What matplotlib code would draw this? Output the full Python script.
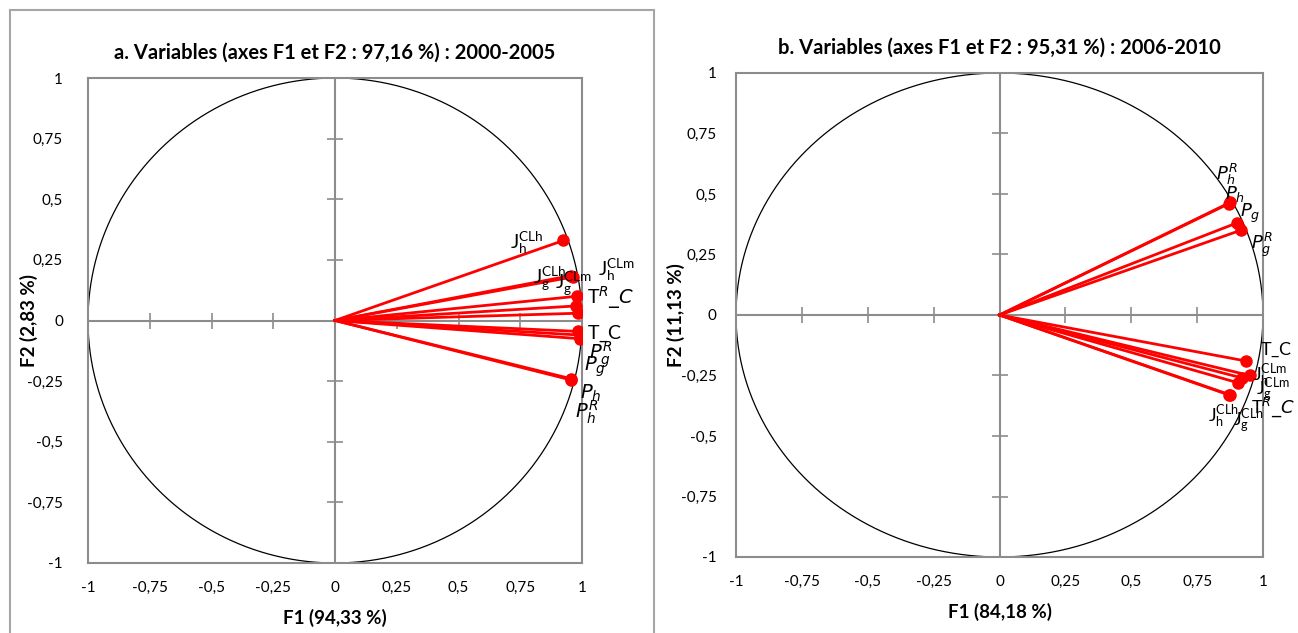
#!/usr/bin/env python3

import numpy as np
import matplotlib
matplotlib.use("Agg")
import matplotlib.pyplot as plt
from matplotlib.lines import Line2D

"""
ACP: cercles des corrélations, deux périodes
"""

plt.rcParams["font.family"] = ["Lato", "DejaVu Sans"]
plt.rcParams["mathtext.fontset"] = "dejavusans"

ticks = [-1, -0.75, -0.5, -0.25, 0, 0.25, 0.5, 0.75, 1]
tick_labels = ["-1", "-0,75", "-0,5", "-0,25", "0", "0,25", "0,5", "0,75", "1"]

# panel a : 2000-2005
names_a = [r"$\mathregular{J_h^{CLh}}$", r"$\mathregular{J_g^{CLh}}$", r"$\mathregular{J_h^{CLm}}$",
           r"$\mathregular{J_g^{CLm}}$", r"$\mathregular{T}^R\_C$", "", r"$\mathregular{T\_C}$",
           r"$P^R_g$", r"$P_g$", r"$P_h$", r"$P^R_h$"]
x_a = [0.925, 0.955, 0.965, 0.975, 0.98, 0.985, 0.985, 0.99, 0.99, 0.955, 0.955]
y_a = [0.33, 0.185, 0.18, 0.06, 0.10, 0.03, -0.045, -0.06, -0.075, -0.24, -0.245]
lab_a = [(0.71, 0.32), (0.80, 0.17), (1.065, 0.21), (0.89, 0.15), (1.02, 0.095), None,
         (1.02, -0.055), (1.03, -0.14), (1.01, -0.19), (0.99, -0.30), (0.97, -0.38)]

# panel b : 2006-2010
names_b = [r"$P^R_h$", r"$P_h$", r"$P_g$", r"$P^R_g$", r"$\mathregular{T\_C}$",
           r"$\mathregular{J_h^{CLm}}$", r"$\mathregular{J_g^{CLm}}$", r"$\mathregular{T}^R\_C$",
           r"$\mathregular{J_h^{CLh}}$", r"$\mathregular{J_g^{CLh}}$"]
x_b = [0.87, 0.875, 0.90, 0.915, 0.935, 0.95, 0.92, 0.905, 0.87, 0.875]
y_b = [0.46, 0.465, 0.38, 0.35, -0.19, -0.25, -0.26, -0.28, -0.33, -0.33]
lab_b = [(0.82, 0.58), (0.855, 0.50), (0.913, 0.42), (0.955, 0.29), (0.99, -0.145),
         (0.962, -0.25), (0.973, -0.31), (0.955, -0.38), (0.79, -0.42), (0.887, -0.44)]


def circle(ax, xs, ys, names, labels, title, xlabel, ylabel, ypad, ylab_x, fs):
    grey = "#8c8c8c"
    ax.set_xlim(-1, 1)
    ax.set_ylim(-1, 1)
    for s in ax.spines.values():
        s.set_color(grey)
        s.set_linewidth(1.5)
    ax.set_xticks(ticks)
    ax.set_xticklabels(tick_labels)
    ax.set_yticks(ticks)
    ax.set_yticklabels(tick_labels)
    ax.tick_params(length=0, labelsize=11)
    ax.tick_params(axis="x", pad=13)
    ax.tick_params(axis="y", pad=ypad)

    # zero axes with small cross ticks
    ax.axhline(0, color=grey, lw=1.5, zorder=1)
    ax.axvline(0, color=grey, lw=1.5, zorder=1)
    t = np.array(ticks)
    ax.plot(t, np.zeros_like(t), ls="none", marker="|", ms=12, color=grey, mew=1.2, zorder=1)
    ax.plot(np.zeros_like(t), t, ls="none", marker="_", ms=12, color=grey, mew=1.2, zorder=1)

    th = np.linspace(0, 2 * np.pi, 400)
    ax.plot(np.cos(th), np.sin(th), color="black", lw=0.9, zorder=2)

    for x, y in zip(xs, ys):
        ax.plot([0, x], [0, y], color="#ff0000", lw=2, zorder=3)
    ax.plot(xs, ys, ls="none", marker="o", ms=8, color="#ff0000", zorder=4)

    for name, pos in zip(names, labels):
        if pos is None or name == "":
            continue
        ax.text(pos[0], pos[1], name, fontsize=fs, color="black", ha="left",
                va="center", zorder=5, clip_on=False)

    ax.set_title(title, fontsize=14.5, fontweight="bold", pad=14)
    ax.set_xlabel(xlabel, fontsize=13.5, fontweight="bold", labelpad=10)
    ax.set_ylabel(ylabel, fontsize=13.5, fontweight="bold")
    ax.yaxis.set_label_coords(ylab_x, 0.5)


def main():
    W, H = 1298, 633
    fig = plt.figure(figsize=(W / 100, H / 100), dpi=100)

    # panel borders
    c = "#a6a6a6"
    fig.add_artist(Line2D([10 / W, 10 / W], [0, 1 - 10 / H], color=c, lw=1.5))
    fig.add_artist(Line2D([10 / W, 654 / W], [1 - 10 / H, 1 - 10 / H], color=c, lw=1.5))
    fig.add_artist(Line2D([654 / W, 654 / W], [0, 1 - 10 / H], color=c, lw=1.5))

    ax1 = fig.add_axes([88 / W, (H - 563) / H, 494 / W, 485 / H])
    circle(ax1, x_a, y_a, names_a, lab_a,
           "a. Variables (axes F1 et F2 : 97,16 %) : 2000-2005",
           "F1 (94,33 %)", "F2 (2,83 %)", 18, -0.101, 14)

    ax2 = fig.add_axes([736 / W, (H - 557) / H, 527 / W, 484 / H])
    circle(ax2, x_b, y_b, names_b, lab_b,
           "b. Variables (axes F1 et F2 : 95,31 %) : 2006-2010",
           "F1 (84,18 %)", "F2 (11,13 %)", 14, -0.097, 13)

    fig.savefig("out.png", dpi=100)


if __name__ == "__main__":
    main()
